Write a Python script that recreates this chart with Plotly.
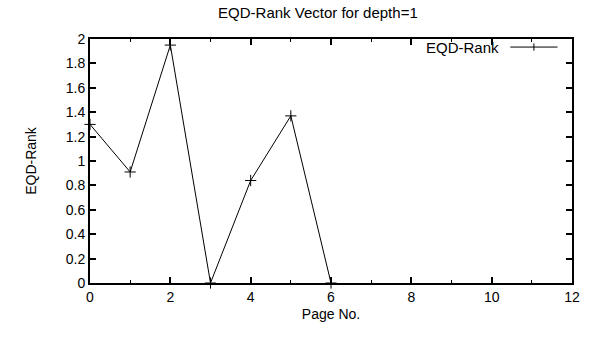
import plotly.graph_objects as go

page_no = [0, 1, 2, 3, 4, 5, 6]
eqd_rank = [1.30, 0.91, 1.95, 0.0, 0.84, 1.37, 0.0]
series_name = "EQD-Rank"
title_text = "EQD-Rank Vector for depth=1"
x_title = "Page No."
y_title = "EQD-Rank"

FONT = "Liberation Sans, Arial, sans-serif"
FS = 14

fig = go.Figure()
fig.add_trace(go.Scatter(
    x=page_no, y=eqd_rank, mode="lines+markers", name=series_name,
    line=dict(color="black", width=1),
    marker=dict(symbol="cross-thin", size=8, line=dict(color="black", width=1)),
    showlegend=False, cliponaxis=False,
))

axis_common = dict(
    showgrid=False, zeroline=False, showline=True, linecolor="black", linewidth=2,
    mirror="ticks", ticks="inside", ticklen=6, tickwidth=2, tickcolor="black",
    tickfont=dict(family=FONT, size=FS, color="black"),
)
fig.update_layout(
    width=592, height=337,
    margin=dict(l=90, r=13, t=39, b=54),
    paper_bgcolor="white", plot_bgcolor="white",
    font=dict(family=FONT, size=FS, color="black"),
    title=dict(text=title_text, x=0.537, xanchor="center", y=0.962, yanchor="middle",
               font=dict(family=FONT, size=15, color="black")),
    xaxis=dict(range=[0, 12], dtick=2, tick0=0,
               minor=dict(dtick=1, ticks="inside", ticklen=3, tickwidth=1, tickcolor="black"),
               title=dict(text=x_title, standoff=5, font=dict(family=FONT, size=FS)),
               **axis_common),
    yaxis=dict(range=[0, 2], dtick=0.2, tick0=0, tickformat="~g",
               title=dict(text=y_title, standoff=26, font=dict(family=FONT, size=FS)),
               **axis_common),
)

# legend key (gnuplot style: text then line sample on the right)
fig.add_annotation(xref="paper", yref="paper", x=0.852, y=0.967, xanchor="right", yanchor="middle",
                   text=series_name, showarrow=False, font=dict(family=FONT, size=15, color="black"))
fig.add_shape(type="line", xref="paper", yref="paper", x0=0.872, x1=0.97, y0=0.967, y1=0.967,
              line=dict(color="black", width=1))
fig.add_shape(type="line", xref="paper", yref="paper", x0=0.921, x1=0.921, y0=0.952, y1=0.982,
              line=dict(color="black", width=1))

fig.write_html("out.html")
